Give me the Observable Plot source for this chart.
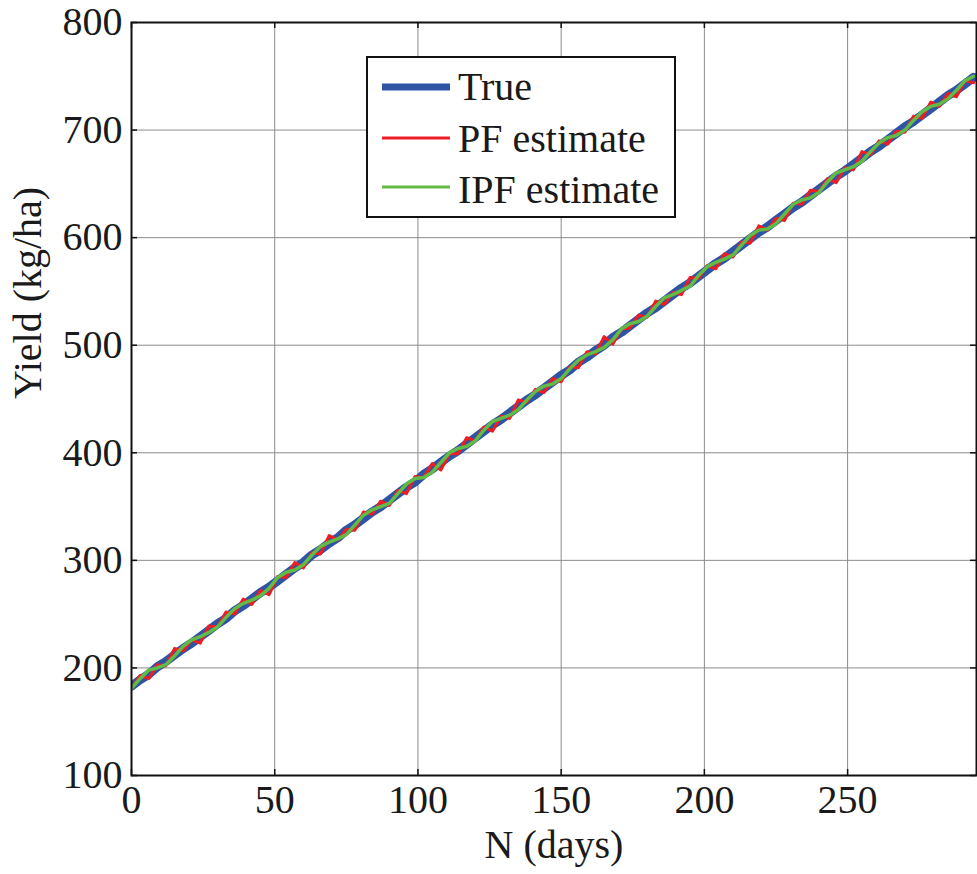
<!DOCTYPE html>
<html>
<head>
<meta charset="utf-8">
<script src="https://cdn.jsdelivr.net/npm/d3@7"></script>
<script src="https://cdn.jsdelivr.net/npm/@observablehq/plot@0.6"></script>
<style>
  html, body { margin: 0; padding: 0; background: #fff; }
  #chart { position: relative; width: 977px; height: 874px; }
</style>
</head>
<body>
<div id="chart"></div>
<script>
const days = [
  0,3,6,9,12,15,18,21,24,27,
  30,33,36,39,42,45,48,51,54,57,
  60,63,66,69,72,75,78,81,84,87,
  90,93,96,99,102,105,108,111,114,117,
  120,123,126,129,132,135,138,141,144,147,
  150,153,156,159,162,165,168,171,174,177,
  180,183,186,189,192,195,198,201,204,207,
  210,213,216,219,222,225,228,231,234,237,
  240,243,246,249,252,255,258,261,264,267,
  270,273,276,279,282,285,288,291,294
];
const trueYield = [
  183,189,194,201,206,212,218,223,229,235,
  241,246,253,258,264,270,275,281,287,293,
  298,305,310,316,321,328,333,339,345,350,
  356,362,368,373,380,385,391,397,402,408,
  414,420,426,431,437,443,449,454,460,466,
  472,477,484,489,495,500,507,512,518,524,
  530,535,541,547,553,558,564,570,576,581,
  587,593,599,605,610,616,622,628,633,639,
  645,651,657,662,668,674,680,685,691,697,
  703,708,714,720,726,732,737,743,749
];
const pfEstimate = [
  181,193,190,203,202,218,216,226,223,239,
  238,252,250,264,259,272,268,285,284,298,
  293,307,306,323,319,329,328,345,343,355,
  351,365,362,378,377,390,384,399,399,414,
  411,424,420,434,432,449,447,459,456,469,
  466,480,479,494,492,508,501,515,516,528,
  526,541,538,549,547,563,562,574,571,585,
  582,596,595,611,607,618,616,632,631,644,
  643,655,651,665,663,680,677,690,687,699,
  698,713,711,726,722,734,731,746,744
];
const ipfEstimate = [
  181,190,198,200,203,211,220,226,229,233,
  238,247,255,260,263,267,274,284,289,291,
  296,305,313,317,320,324,333,342,347,350,
  353,362,371,376,377,382,391,400,404,406,
  411,421,429,432,435,440,449,457,462,464,
  469,478,486,491,494,498,505,515,520,522,
  527,536,544,547,551,555,565,573,577,580,
  584,593,602,607,608,613,622,631,635,637,
  642,652,660,663,666,671,680,688,693,695,
  700,709,717,722,724,729,737,746,750
];
const xTicks = [0,50,100,150,200,250];
const yTicks = [100,200,300,400,500,600,700,800];
const seriesNames = ["True","PF estimate","IPF estimate"];
const seriesColors = ["#2f54a5","#ee1c25","#62bb46"];
const seriesWidths = [9,3,3.5];

const rows = [];
[trueYield, pfEstimate, ipfEstimate].forEach((arr, s) => {
  arr.forEach((v, i) => rows.push({day: days[i], value: v, series: seriesNames[s]}));
});

const W = 977, H = 874, mL = 131, mT = 22, mB = 99, mR = 1;
const innerH = H - mT - mB, innerW = W - mL - mR;
const font = "'Liberation Serif', 'Times New Roman', serif";

const plot = Plot.plot({
  width: W, height: H,
  marginLeft: mL, marginTop: mT, marginBottom: mB, marginRight: mR,
  x: {domain: [0, 295]},
  y: {domain: [100, 800]},
  style: {fontFamily: font, fontSize: "40px", color: "#1a1a1a", background: "#fff"},
  marks: [
    Plot.gridX(xTicks.slice(1), {stroke: "#8c8c8c", strokeOpacity: 1, strokeWidth: 1}),
    Plot.gridY(yTicks.slice(1, -1), {stroke: "#8c8c8c", strokeOpacity: 1, strokeWidth: 1}),
    ...seriesNames.map((name, s) => Plot.line(rows.filter(r => r.series === name), {
      x: "day", y: "value", stroke: seriesColors[s], strokeWidth: seriesWidths[s],
      strokeLinejoin: "round", clip: true
    })),
    Plot.tickX(xTicks, {x: d => d, insetTop: innerH - 6, stroke: "#111", strokeWidth: 1.5}),
    Plot.tickX(xTicks, {x: d => d, insetBottom: innerH - 6, stroke: "#111", strokeWidth: 1.5}),
    Plot.tickY(yTicks, {y: d => d, insetRight: innerW - 6, stroke: "#111", strokeWidth: 1.5}),
    Plot.tickY(yTicks, {y: d => d, insetLeft: innerW - 6, stroke: "#111", strokeWidth: 1.5}),
    Plot.frame({stroke: "#111", strokeWidth: 2}),
    Plot.axisX(xTicks, {tickSize: 0, tickPadding: 9, label: null, fontSize: 40, fill: "#1a1a1a"}),
    Plot.axisY(yTicks, {tickSize: 0, tickPadding: 9, label: null, fontSize: 40, fill: "#1a1a1a"}),
    Plot.text(["N (days)"], {frameAnchor: "bottom", lineAnchor: "middle", dy: 70, fontSize: 40, fill: "#1a1a1a"}),
    Plot.text(["Yield (kg/ha)"], {frameAnchor: "left", lineAnchor: "middle", dx: -103, rotate: -90, fontSize: 40, fill: "#1a1a1a"})
  ]
});
document.getElementById("chart").appendChild(plot);

// Legend (drawn in the same SVG)
const svg = d3.select(plot);
const lg = svg.append("g").attr("font-family", font).attr("font-size", 40)
  .attr("fill", "#1a1a1a").attr("text-anchor", "start");
lg.append("rect").attr("x", 367).attr("y", 57).attr("width", 308).attr("height", 160)
  .attr("fill", "#fff").attr("stroke", "#111").attr("stroke-width", 2);
const rowY = [87, 138, 187];
const baseY = [100, 152, 203];
seriesNames.forEach((name, s) => {
  lg.append("line").attr("x1", 382).attr("x2", 450).attr("y1", rowY[s]).attr("y2", rowY[s])
    .attr("stroke", seriesColors[s]).attr("stroke-width", s === 0 ? 7 : 3);
  lg.append("text").attr("x", 458).attr("y", baseY[s]).attr("text-anchor", "start").text(name);
});
</script>
</body>
</html>
